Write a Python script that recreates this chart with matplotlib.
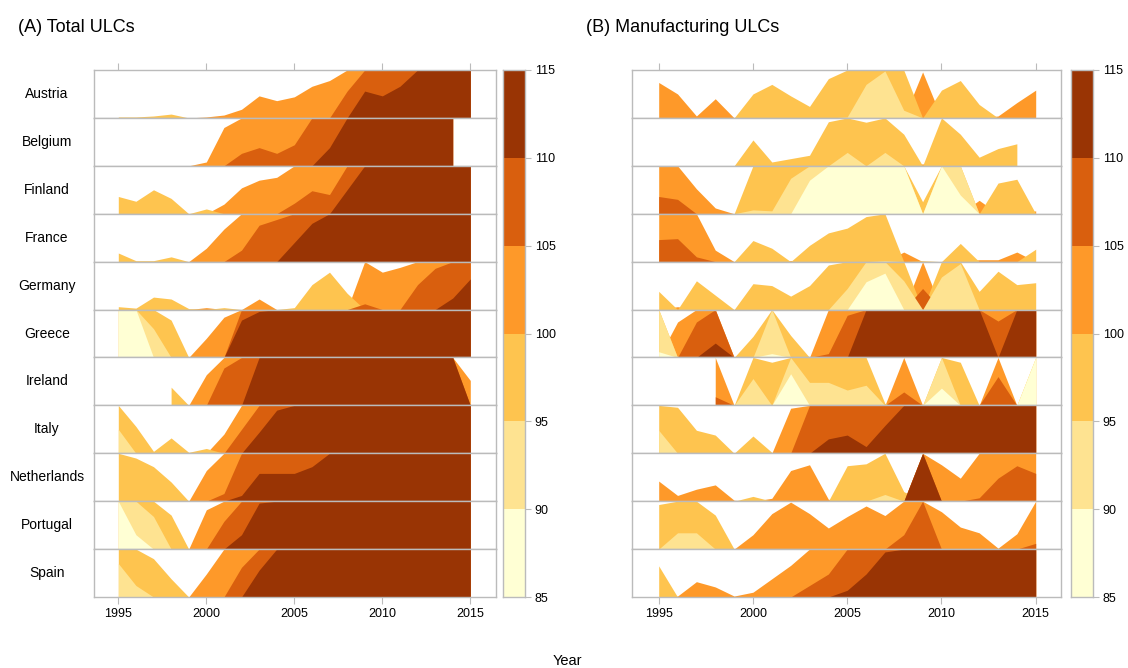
import numpy as np
import matplotlib
matplotlib.use('Agg')
import matplotlib.pyplot as plt

plt.rcParams['font.family'] = ['Liberation Sans', 'DejaVu Sans']

nan = float('nan')
years = list(range(1995, 2016))
countries = ['Austria', 'Belgium', 'Finland', 'France', 'Germany', 'Greece',
             'Ireland', 'Italy', 'Netherlands', 'Portugal', 'Spain']

# (A) Total ULCs
tot_austria = [99.9, 99.9, 99.8, 99.6, 100.0, 100.1, 100.3, 100.9, 102.3, 101.8, 102.2,
               103.3, 103.9, 107.8, 112.8, 112.3, 113.3, 115.5, 116.5, 117.5, 118.5]
tot_belgium = [nan, nan, nan, nan, 100.0, 100.4, 104.0, 106.3, 106.9, 106.3, 107.2,
               110.0, 111.9, 115.2, 116.0, 116.5, 117.0, 117.5, 118.0, 118.5, nan]
tot_finland = [98.2, 98.7, 97.5, 98.4, 100.0, 99.5, 101.0, 102.7, 103.5, 103.8, 106.1,
               107.4, 107.0, 112.5, 115.5, 116.5, 117.5, 118.0, 118.5, 119.0, 119.0]
tot_france = [99.1, 99.9, 99.9, 99.5, 100.0, 101.4, 103.4, 106.2, 108.8, 109.4, 112.0,
              114.0, 115.5, 116.5, 117.0, 117.5, 118.0, 118.5, 119.0, 119.5, 120.0]
tot_germany = [99.7, 99.85, 98.7, 98.9, 99.9, 100.2, 99.8, 100.0, 101.1, 100.0, 99.8,
               97.4, 96.1, 98.3, 105.6, 103.9, 104.4, 107.6, 109.3, 111.2, 113.2]
tot_greece = [84.0, 85.0, 92.0, 96.1, 100.0, 102.0, 104.2, 113.9, 114.8, 116.0, 117.0,
              118.0, 119.0, 120.0, 121.0, 121.0, 121.0, 120.0, 119.0, 118.0, 117.0]
tot_ireland = [nan, nan, nan, 98.1, 100.0, 103.2, 108.9, 110.0, 116.0, 117.0, 118.0,
               119.0, 120.0, 120.0, 120.0, 119.0, 118.0, 117.0, 116.0, 116.0, 102.6]
tot_italy = [92.5, 97.2, 99.8, 98.4, 99.9, 99.5, 102.0, 107.5, 112.2, 114.5, 115.5,
             116.5, 117.5, 118.5, 119.0, 119.0, 119.5, 120.0, 120.0, 120.0, 120.0]
tot_netherlands = [95.0, 95.5, 96.4, 98.0, 100.0, 103.2, 105.8, 110.6, 112.9, 112.9, 112.9,
                   113.6, 115.2, 116.0, 117.0, 117.0, 117.0, 117.5, 118.0, 118.0, 118.0]
tot_portugal = [85.0, 88.5, 91.6, 96.45, 100.0, 104.1, 107.9, 111.5, 114.8, 116.0, 117.0,
                118.0, 119.0, 120.0, 121.0, 121.0, 121.0, 120.0, 120.0, 120.0, 120.0]
tot_spain = [91.5, 93.8, 96.0, 98.1, 100.0, 102.4, 105.0, 108.1, 112.8, 115.5, 116.5,
             117.5, 118.5, 119.5, 120.0, 120.0, 119.0, 118.0, 117.0, 117.0, 117.0]

# (B) Manufacturing ULCs
man_austria = [103.7, 102.5, 100.2, 102.0, 100.0, 97.5, 96.5, 97.7, 98.8, 95.9, 94.9,
               91.5, 90.1, 94.2, 104.8, 97.1, 96.1, 98.6, 100.2, 101.6, 102.9]
man_belgium = [nan, nan, nan, nan, 100.0, 97.3, 99.6, 99.25, 98.9, 95.4, 93.6,
               95.45, 93.6, 96.7, 100.2, 95.0, 96.7, 99.1, 98.2, 97.7, nan]
man_finland = [106.8, 106.5, 102.6, 100.6, 100.0, 94.6, 94.7, 91.3, 86.5, 85.0, 84.5,
               84.0, 84.5, 85.0, 98.75, 85.0, 88.05, 101.4, 96.8, 96.4, 100.3]
man_france = [107.3, 107.4, 105.5, 101.2, 100.0, 97.8, 98.6, 100.1, 98.3, 97.0, 96.5,
              95.3, 94.9, 101.0, 99.9, 100.0, 98.1, 100.2, 100.2, 101.0, 98.7]
man_germany = [98.1, 100.3, 97.0, 98.5, 100.0, 97.3, 97.5, 98.6, 97.5, 95.35, 92.8,
               87.1, 86.2, 92.0, 107.2, 91.6, 90.2, 98.1, 96.0, 97.4, 97.2]
man_greece = [89.4, 103.7, 108.7, 111.5, 100.0, 97.8, 89.6, 97.7, 100.0, 105.4, 109.4,
              116.0, 117.0, 118.0, 119.0, 119.0, 118.0, 117.0, 108.8, 116.0, 117.0]
man_ireland = [nan, nan, nan, 105.9, 100.0, 92.2, 95.5, 86.7, 92.6, 92.6, 93.4,
               92.9, 99.8, 106.4, 100.0, 88.2, 95.5, 100.0, 108.0, 100.0, 84.5]
man_italy = [92.6, 95.2, 97.6, 98.1, 100.0, 98.2, 99.9, 104.7, 110.0, 111.5, 111.9,
             110.7, 112.9, 115.5, 116.0, 116.5, 117.0, 117.5, 118.0, 118.0, 118.0]
man_netherlands = [102.1, 100.6, 101.25, 101.7, 100.1, 99.5, 100.3, 103.2, 103.8, 100.2, 96.3,
                   96.1, 94.3, 99.0, 115.5, 103.8, 102.4, 105.35, 107.4, 108.7, 107.9]
man_portugal = [95.35, 93.3, 93.3, 96.45, 100.0, 101.5, 103.7, 104.9, 103.7, 102.2, 103.4,
                104.5, 103.5, 106.5, 110.0, 103.9, 102.3, 101.7, 100.1, 101.6, 105.6]
man_spain = [96.75, 100.1, 101.6, 101.05, 100.1, 100.5, 101.9, 103.3, 106.2, 107.4, 110.7,
             112.4, 114.7, 116.0, 117.0, 117.5, 118.0, 118.0, 118.0, 118.0, 118.0]

total_ulc = [tot_austria, tot_belgium, tot_finland, tot_france, tot_germany, tot_greece,
             tot_ireland, tot_italy, tot_netherlands, tot_portugal, tot_spain]
manuf_ulc = [man_austria, man_belgium, man_finland, man_france, man_germany, man_greece,
             man_ireland, man_italy, man_netherlands, man_portugal, man_spain]

band_edges = [85, 90, 95, 100, 105, 110, 115]
band_colors = ['#FFFFD4', '#FEE391', '#FEC44F', '#FE9929', '#D95F0E', '#993404']
x_ticks = [1995, 2000, 2005, 2010, 2015]
origin = 100.0
bandwidth = 5.0

W, H = 1128, 668
fig = plt.figure(figsize=(W / 100, H / 100), dpi=100)
frame = '#BBBBBB'


def ax_px(x0, y0, x1, y1):
    return fig.add_axes([x0 / W, 1 - y1 / H, (x1 - x0) / W, (y1 - y0) / H])


row_top, row_bot = 70.0, 597.0
row_h = (row_bot - row_top) / len(countries)


def draw_panel(data, x0, x1, xlim, with_labels):
    n = len(countries)
    for i, (name, vals) in enumerate(zip(countries, data)):
        ax = ax_px(x0, row_top + i * row_h, x1, row_top + (i + 1) * row_h)
        v = np.array(vals, dtype=float)
        yr = np.array(years, dtype=float)
        ok = ~np.isnan(v)
        yv, vv = yr[ok], v[ok]
        for k in [1, -1, 2, -2, 3, -3]:
            if k > 0:
                h = np.clip((vv - origin - (k - 1) * bandwidth) / bandwidth, 0, 1)
                col = band_colors[2 + k]
            else:
                h = np.clip((origin - vv - (-k - 1) * bandwidth) / bandwidth, 0, 1)
                col = band_colors[3 + k]
            ax.fill_between(yv, 0, h, color=col, linewidth=0, antialiased=True)
        ax.set_xlim(*xlim)
        ax.set_ylim(0, 1)
        ax.set_yticks([])
        for s in ax.spines.values():
            s.set_color(frame)
            s.set_linewidth(1.0)
        ax.set_xticks(x_ticks)
        if i == 0:
            ax.xaxis.set_ticks_position('top')
            ax.tick_params(axis='x', direction='out', length=5, color=frame,
                           labeltop=False, labelbottom=False)
        elif i == n - 1:
            ax.xaxis.set_ticks_position('bottom')
            ax.tick_params(axis='x', direction='out', length=5, color=frame,
                           labelsize=9, pad=3, labelcolor='black')
        else:
            ax.tick_params(axis='x', length=0, labelbottom=False)
        if with_labels:
            yc = row_top + (i + 0.5) * row_h
            fig.text(47 / W, 1 - yc / H, name, ha='center', va='center', fontsize=10)


def draw_colorbar(x0, x1):
    cax = ax_px(x0, row_top, x1, row_bot)
    for lo, hi, c in zip(band_edges[:-1], band_edges[1:], band_colors):
        cax.bar(0, hi - lo, bottom=lo, width=1.0, color=c, linewidth=0)
    cax.set_xlim(-0.5, 0.5)
    cax.set_ylim(band_edges[0], band_edges[-1])
    cax.set_xticks([])
    cax.yaxis.tick_right()
    cax.set_yticks(band_edges)
    cax.tick_params(axis='y', direction='out', length=4, color=frame,
                    labelsize=9, pad=3, labelcolor='black')
    for s in cax.spines.values():
        s.set_color(frame)
        s.set_linewidth(1.0)


# Panel A
xA0, xA1 = 94, 496
xlimA = (1995 - (118.3 - xA0) / 17.6, 2015 + (xA1 - 470.3) / 17.6)
draw_panel(total_ulc, xA0, xA1, xlimA, True)
draw_colorbar(503, 525)

# Panel B
xB0, xB1 = 632, 1061
xlimB = (1995 - (658.7 - xB0) / 18.85, 2015 + (xB1 - 1035.7) / 18.85)
draw_panel(manuf_ulc, xB0, xB1, xlimB, False)
draw_colorbar(1071, 1093)

fig.text(18 / W, 1 - 27 / H, '(A) Total ULCs', ha='left', va='center', fontsize=13)
fig.text(586 / W, 1 - 27 / H, '(B) Manufacturing ULCs', ha='left', va='center', fontsize=13)
fig.text(567 / W, 1 - 661 / H, 'Year', ha='center', va='center', fontsize=10.5)

fig.savefig('out.png', dpi=100)
